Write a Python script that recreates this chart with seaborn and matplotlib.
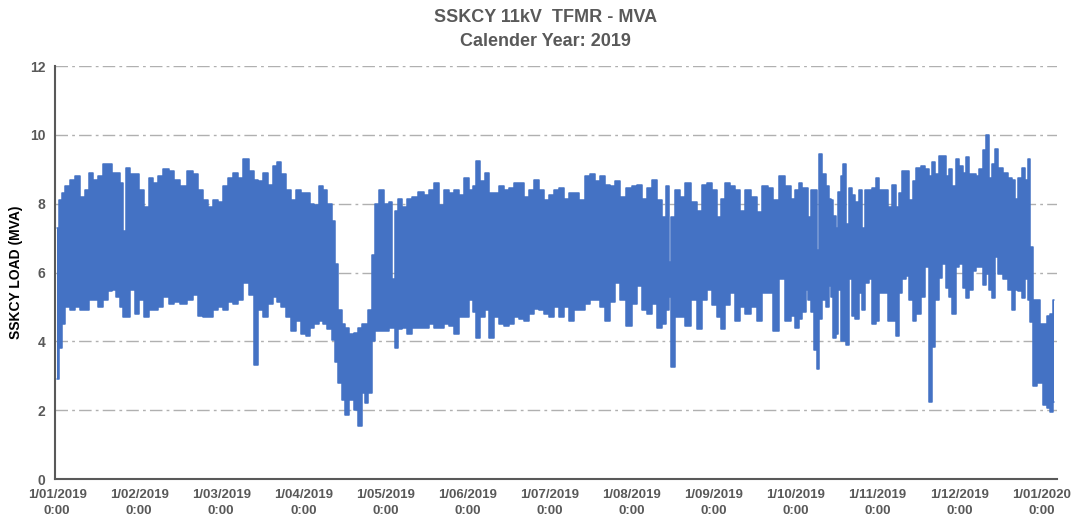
import numpy as np
import pandas as pd
import matplotlib
matplotlib.use("Agg")
import matplotlib.pyplot as plt
import seaborn as sns

# Daily load envelope (day of year, peak and trough MVA)
day = [0, 1.2, 2.4, 3.6, 5.5, 7.3, 9.1, 11, 12.2, 14, 15.8, 17.6, 19.5, 20.7, 22.5, 23.7,
       24.6, 25.5, 27.4, 29.2, 31, 32.8, 34, 35.8, 37.7, 39.5, 42,
       43.8, 46.2, 48.7, 50.5, 52.3, 54.1, 56, 57.8, 59.6, 61.4, 63.3, 65.1, 66.9, 69.3,
       71.2, 72.8, 74.2, 76, 77.9, 79.7, 80.9, 82.7, 84.6, 86.4, 88.2,
       90.2, 91.6, 93.1, 94.9, 96.7, 97.9, 99.7, 101, 102.2, 103.4, 104.6, 105.8, 107.6,
       109.5, 110.7, 111.9, 113.1, 114.3, 115.6, 116.8, 118.6, 120.4, 122, 122.9, 124.1,
       125.3, 127.1, 129, 130.8, 133.2,
       135, 136.8, 138.6, 140.5, 142.3, 144.1, 146, 147.8, 149.6, 151.4, 152.6, 153.9,
       155.7, 156.9, 158.7, 160.5, 162.4, 164.2, 166, 167.8, 169.7, 171.5, 173.3, 175.1,
       177, 178.8,
       180.7, 182.5, 184.3, 186.2, 188, 189.8, 191.6, 194.1, 195.9, 197.7, 199.6, 201.4,
       203.2, 205, 206.9, 209.3, 211.1, 213, 214.8, 216.6, 218.2, 220.2, 222.1, 223.3,
       224.2, 225.1, 227,
       228.5, 230.5, 233, 234.8, 236.6, 238.4, 240.3, 242.1, 243.3, 245.1, 247, 248.8,
       250.6, 252.4, 254.9, 256.8, 258.6, 261, 262.8, 265.2, 267,
       269.4, 270.6, 271.9, 273.1, 274.3, 275.1, 276.5, 277.3, 278.2, 279.2, 280.4, 281.6,
       282.6, 283.4, 284.3, 285.2, 286.2, 287.1, 288, 288.9, 290.1, 291.3, 292.5, 293.7,
       294.9, 296.2, 297.4, 298.6, 300.1, 301.3, 302.9, 304.7, 306.2, 307.1, 308.3, 309.8,
       311, 312.2, 313.5, 315, 316.9, 318.1, 319.3, 320.3, 321.7, 322.9, 324.4, 325.6,
       326.8, 328, 329.3, 330.5, 331.7, 332.9, 334.1, 335.4, 336.6, 337.8, 339, 340.2,
       341.2, 342.4, 343.6, 344.8, 346.7, 348.5, 349.5, 350.7, 352.1, 353.4, 354.6, 355.3,
       356.4, 357.6, 358.8, 360, 361.3, 362.5, 363.4, 364.6]

peak = [7.3, 8.1, 8.3, 8.5, 8.7, 8.8, 8.2, 8.4, 8.9, 8.7, 8.8, 9.15, 9.15, 8.9, 8.9, 8.6,
        7.2, 9.05, 8.85, 8.85, 8.4, 7.9, 8.75, 8.6, 8.8, 9.0, 8.95,
        8.7, 8.5, 8.95, 8.85, 8.4, 8.1, 7.9, 8.1, 8.05, 8.5, 8.75, 8.9, 8.75, 9.3,
        8.95, 8.7, 8.65, 8.9, 8.55, 9.1, 9.2, 8.85, 8.4, 8.1, 8.4,
        8.3, 8.3, 8.0, 7.95, 8.5, 8.4, 8.0, 7.5, 6.25, 4.9, 4.5, 4.4, 4.2,
        4.25, 4.4, 4.5, 4.5, 4.9, 6.5, 8.0, 8.4, 8.0, 8.05, 5.8, 7.8,
        8.15, 7.9, 8.15, 8.2, 8.35,
        8.25, 8.4, 8.6, 7.95, 8.4, 8.3, 8.4, 8.25, 8.75, 8.4, 8.5, 9.25,
        8.65, 8.9, 8.3, 8.3, 8.5, 8.4, 8.45, 8.6, 8.6, 8.2, 8.4, 8.7,
        8.4, 8.1,
        8.25, 8.4, 8.45, 8.15, 8.3, 8.3, 8.1, 8.8, 8.85, 8.65, 8.8, 8.55,
        8.5, 8.65, 8.2, 8.45, 8.5, 8.55, 8.15, 8.45, 8.7, 8.1, 7.6, 8.5,
        6.3, 7.6, 8.4,
        8.2, 8.6, 8.05, 7.8, 8.55, 8.6, 8.4, 7.6, 8.15, 8.6, 8.5, 8.4,
        7.8, 8.4, 8.2, 7.75, 8.5, 8.45, 8.1, 8.8, 8.5,
        8.15, 8.4, 8.6, 8.45, 8.45, 7.6, 8.4, 8.4, 6.65, 9.45, 8.85, 8.5,
        8.15, 8.1, 7.65, 7.3, 8.35, 8.8, 9.15, 7.4, 8.45, 8.25, 8.05, 8.4,
        7.3, 8.4, 8.4, 8.45, 8.75, 8.4, 8.4, 7.9, 8.55, 7.9, 8.3, 8.95,
        8.95, 8.1, 8.65, 9.05, 9.1, 9.0, 8.8, 9.2, 8.85, 9.4, 9.4, 8.8,
        9.0, 8.5, 9.3, 9.1, 8.9, 9.35, 8.85, 8.85, 8.8, 9.0, 9.55, 10.0,
        8.75, 9.15, 9.6, 9.05, 8.9, 8.75, 8.7, 8.15, 8.75, 9.05, 8.7, 9.3,
        6.75, 5.2, 5.2, 4.5, 4.5, 4.75, 4.8, 5.2]

trough = [2.9, 3.8, 4.5, 5.0, 4.9, 5.0, 4.9, 4.9, 5.2, 5.2, 5.0, 5.2, 5.45, 5.5, 5.3, 5.0,
          4.7, 4.7, 5.5, 4.8, 5.2, 4.7, 4.9, 4.9, 5.0, 5.3, 5.1,
          5.15, 5.1, 5.2, 5.35, 4.75, 4.7, 4.7, 4.9, 5.0, 4.9, 5.15, 5.1, 5.2, 5.7,
          5.35, 3.3, 4.9, 4.7, 5.1, 5.3, 5.15, 5.0, 4.7, 4.3, 4.6,
          4.2, 4.15, 4.4, 4.5, 4.6, 4.5, 4.35, 4.05, 3.4, 2.8, 2.3, 1.85, 2.3,
          2.0, 1.55, 2.5, 2.2, 2.5, 4.0, 4.3, 4.3, 4.3, 4.4, 4.4, 3.8,
          4.35, 4.4, 4.2, 4.4, 4.4,
          4.4, 4.5, 4.4, 4.4, 4.5, 4.45, 4.2, 4.7, 4.7, 5.2, 4.85, 4.1,
          4.7, 4.9, 4.1, 4.7, 4.5, 4.45, 4.5, 4.7, 4.65, 4.6, 4.8, 4.95,
          4.9, 4.8,
          4.7, 5.0, 4.7, 5.0, 4.6, 4.9, 4.9, 5.1, 5.2, 5.2, 5.0, 4.6,
          5.15, 5.7, 5.2, 4.45, 5.1, 5.6, 4.9, 4.8, 5.1, 4.4, 4.5, 4.9,
          5.3, 3.25, 4.7,
          4.7, 4.45, 5.2, 4.35, 5.2, 5.5, 5.05, 4.7, 4.35, 5.05, 5.4, 4.6,
          5.0, 4.8, 5.0, 4.6, 5.4, 5.4, 4.3, 5.8, 4.6,
          4.75, 4.4, 4.65, 4.85, 5.5, 5.2, 4.85, 3.75, 3.2, 4.65, 5.2, 5.0,
          5.6, 5.3, 4.1, 4.2, 5.5, 4.0, 4.0, 3.9, 5.8, 4.75, 4.65, 5.4,
          4.9, 5.7, 5.8, 4.5, 4.6, 5.4, 5.4, 4.6, 4.6, 4.15, 5.4, 5.8,
          5.9, 5.2, 4.6, 4.8, 5.3, 6.15, 2.25, 3.85, 5.2, 5.85, 6.25, 5.55,
          5.3, 4.8, 6.15, 6.25, 5.55, 5.25, 5.5, 6.05, 6.15, 6.15, 5.65, 5.95,
          5.5, 5.25, 6.45, 5.95, 5.8, 5.5, 4.9, 5.5, 5.45, 5.25, 5.8, 5.2,
          4.55, 2.7, 2.8, 2.8, 2.15, 2.05, 1.95, 2.25]

tick_days = [0, 30, 60, 90, 120, 150, 180, 210, 240, 270, 300, 330, 360]
tick_labels = ["1/01/2019", "1/02/2019", "1/03/2019", "1/04/2019", "1/05/2019",
               "1/06/2019", "1/07/2019", "1/08/2019", "1/09/2019", "1/10/2019",
               "1/11/2019", "1/12/2019", "1/01/2020"]

df = pd.DataFrame({"day": day, "peak": peak, "trough": trough})

sns.set_style("white")
plt.rcParams["font.family"] = ["Liberation Sans", "DejaVu Sans"]

blue = "#4472C4"
grey = "#595959"

fig = plt.figure(figsize=(10.91, 5.20), dpi=100)
ax = fig.add_axes([0.0504, 0.0788, 0.9186, 0.7942])

ax.fill_between(df["day"], df["trough"], df["peak"], step="mid", color=blue, lw=0)
sns.lineplot(data=df, x="day", y="peak", ax=ax, color=blue, lw=1.1,
             drawstyle="steps-mid", estimator=None)
sns.lineplot(data=df, x="day", y="trough", ax=ax, color=blue, lw=1.1,
             drawstyle="steps-mid", estimator=None)

ax.set_xlim(-0.8, 365.7)
ax.set_ylim(0, 12)
ax.set_yticks(range(0, 13, 2))
ax.set_yticklabels([str(v) for v in range(0, 13, 2)], fontsize=10, fontweight="bold", color=grey)
ax.set_xticks(tick_days)
ax.set_xticklabels([t + "\n0:00" for t in tick_labels], fontsize=9.5,
                   fontweight="bold", color=grey, linespacing=1.5)
ax.tick_params(axis="x", length=0, pad=7)
ax.tick_params(axis="y", length=0, pad=7)

for v in range(2, 13, 2):
    ax.axhline(v, color="#B0B0B0", lw=1.0, ls=(0, (9, 3, 2, 3)), zorder=0)

for s in ["top", "right"]:
    ax.spines[s].set_visible(False)
for s in ["left", "bottom"]:
    ax.spines[s].set_color(grey)
    ax.spines[s].set_linewidth(1.5)

ax.set_xlabel("")
ax.set_ylabel("SSKCY LOAD (MVA)", fontsize=10, fontweight="bold", color="black", labelpad=5)

fig.text(0.5, 0.982, "SSKCY 11kV  TFMR - MVA\nCalender Year: 2019", ha="center", va="top",
         fontsize=13, fontweight="bold", color=grey, linespacing=1.5)

fig.savefig("out.png", dpi=100)
